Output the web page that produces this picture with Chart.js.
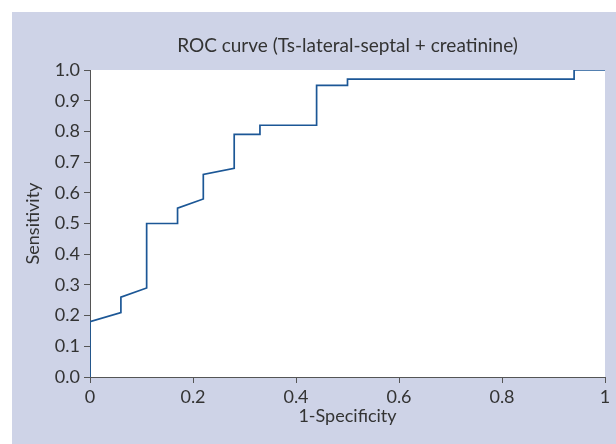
<!DOCTYPE html>
<html>
<head>
<meta charset="utf-8">
<script src="https://cdn.jsdelivr.net/npm/chart.js@4"></script>
<style>
  html, body { margin: 0; padding: 0; background: #fff; }
  #wrap { position: relative; width: 616px; height: 444px; }
</style>
</head>
<body>
<div id="wrap"><canvas id="roc" width="616" height="444"></canvas></div>
<script>
  // ROC curve points
  const fpr = [0, 0, 0.06, 0.06, 0.11, 0.11, 0.17, 0.17, 0.22, 0.22, 0.28, 0.28, 0.33, 0.33, 0.44, 0.44, 0.50, 0.50, 0.94, 0.94, 1];
  const tpr = [0, 0.18, 0.21, 0.26, 0.29, 0.50, 0.50, 0.55, 0.58, 0.66, 0.68, 0.79, 0.79, 0.82, 0.82, 0.95, 0.95, 0.97, 0.97, 1.0, 1.0];
  const chartTitle = 'ROC curve (Ts-lateral-septal + creatinine)';
  const xLabel = '1-Specificity';
  const yLabel = 'Sensitivity';

  const FONT = 'Lato, "Open Sans", sans-serif';
  const TEXT = '#333333';
  const AXIS = '#555555';

  const points = fpr.map((x, i) => ({ x: x, y: tpr[i] }));

  // panel background, white plot area and the title
  const backdrop = {
    id: 'backdrop',
    beforeDraw(chart) {
      const ctx = chart.ctx;
      const a = chart.chartArea;
      ctx.save();
      ctx.fillStyle = '#ced3e7';
      ctx.fillRect(12, 12, chart.width - 12, chart.height - 12);
      ctx.fillStyle = '#ffffff';
      ctx.fillRect(a.left, a.top, a.right - a.left, a.bottom - a.top);
      ctx.fillStyle = TEXT;
      ctx.font = '19px ' + FONT;
      ctx.textAlign = 'center';
      ctx.textBaseline = 'middle';
      ctx.fillText(chartTitle, (a.left + a.right) / 2, 46);
      ctx.restore();
    }
  };

  new Chart(document.getElementById('roc'), {
    type: 'scatter',
    data: {
      datasets: [{
        data: points,
        showLine: true,
        borderColor: '#1c5796',
        borderWidth: 1.7,
        pointRadius: 0,
        tension: 0,
        fill: false
      }]
    },
    options: {
      responsive: false,
      animation: false,
      layout: { padding: { left: 12, top: 70, right: 11, bottom: 0 } },
      plugins: {
        legend: { display: false },
        tooltip: { enabled: false }
      },
      scales: {
        x: {
          type: 'linear',
          min: 0,
          max: 1,
          afterFit(scale) { scale.height = 67; },
          border: { color: AXIS, width: 1 },
          grid: { drawOnChartArea: false, drawTicks: true, tickLength: 6, color: AXIS },
          ticks: {
            stepSize: 0.2,
            color: TEXT,
            padding: 3,
            font: { family: FONT, size: 18 },
            callback: v => (v === 0 || v === 1) ? String(v) : v.toFixed(1)
          },
          title: {
            display: true,
            text: xLabel,
            color: TEXT,
            font: { family: FONT, size: 18 },
            padding: { top: 0, bottom: 17 }
          }
        },
        y: {
          type: 'linear',
          min: 0,
          max: 1,
          afterFit(scale) { scale.width = 78; },
          border: { color: AXIS, width: 1 },
          grid: { drawOnChartArea: false, drawTicks: true, tickLength: 6, color: AXIS },
          ticks: {
            stepSize: 0.1,
            color: TEXT,
            padding: 4,
            font: { family: FONT, size: 18 },
            callback: v => v.toFixed(1)
          },
          title: {
            display: true,
            text: yLabel,
            color: TEXT,
            font: { family: FONT, size: 18 },
            padding: { top: 10, bottom: 0 }
          }
        }
      }
    },
    plugins: [backdrop]
  });
</script>
</body>
</html>
